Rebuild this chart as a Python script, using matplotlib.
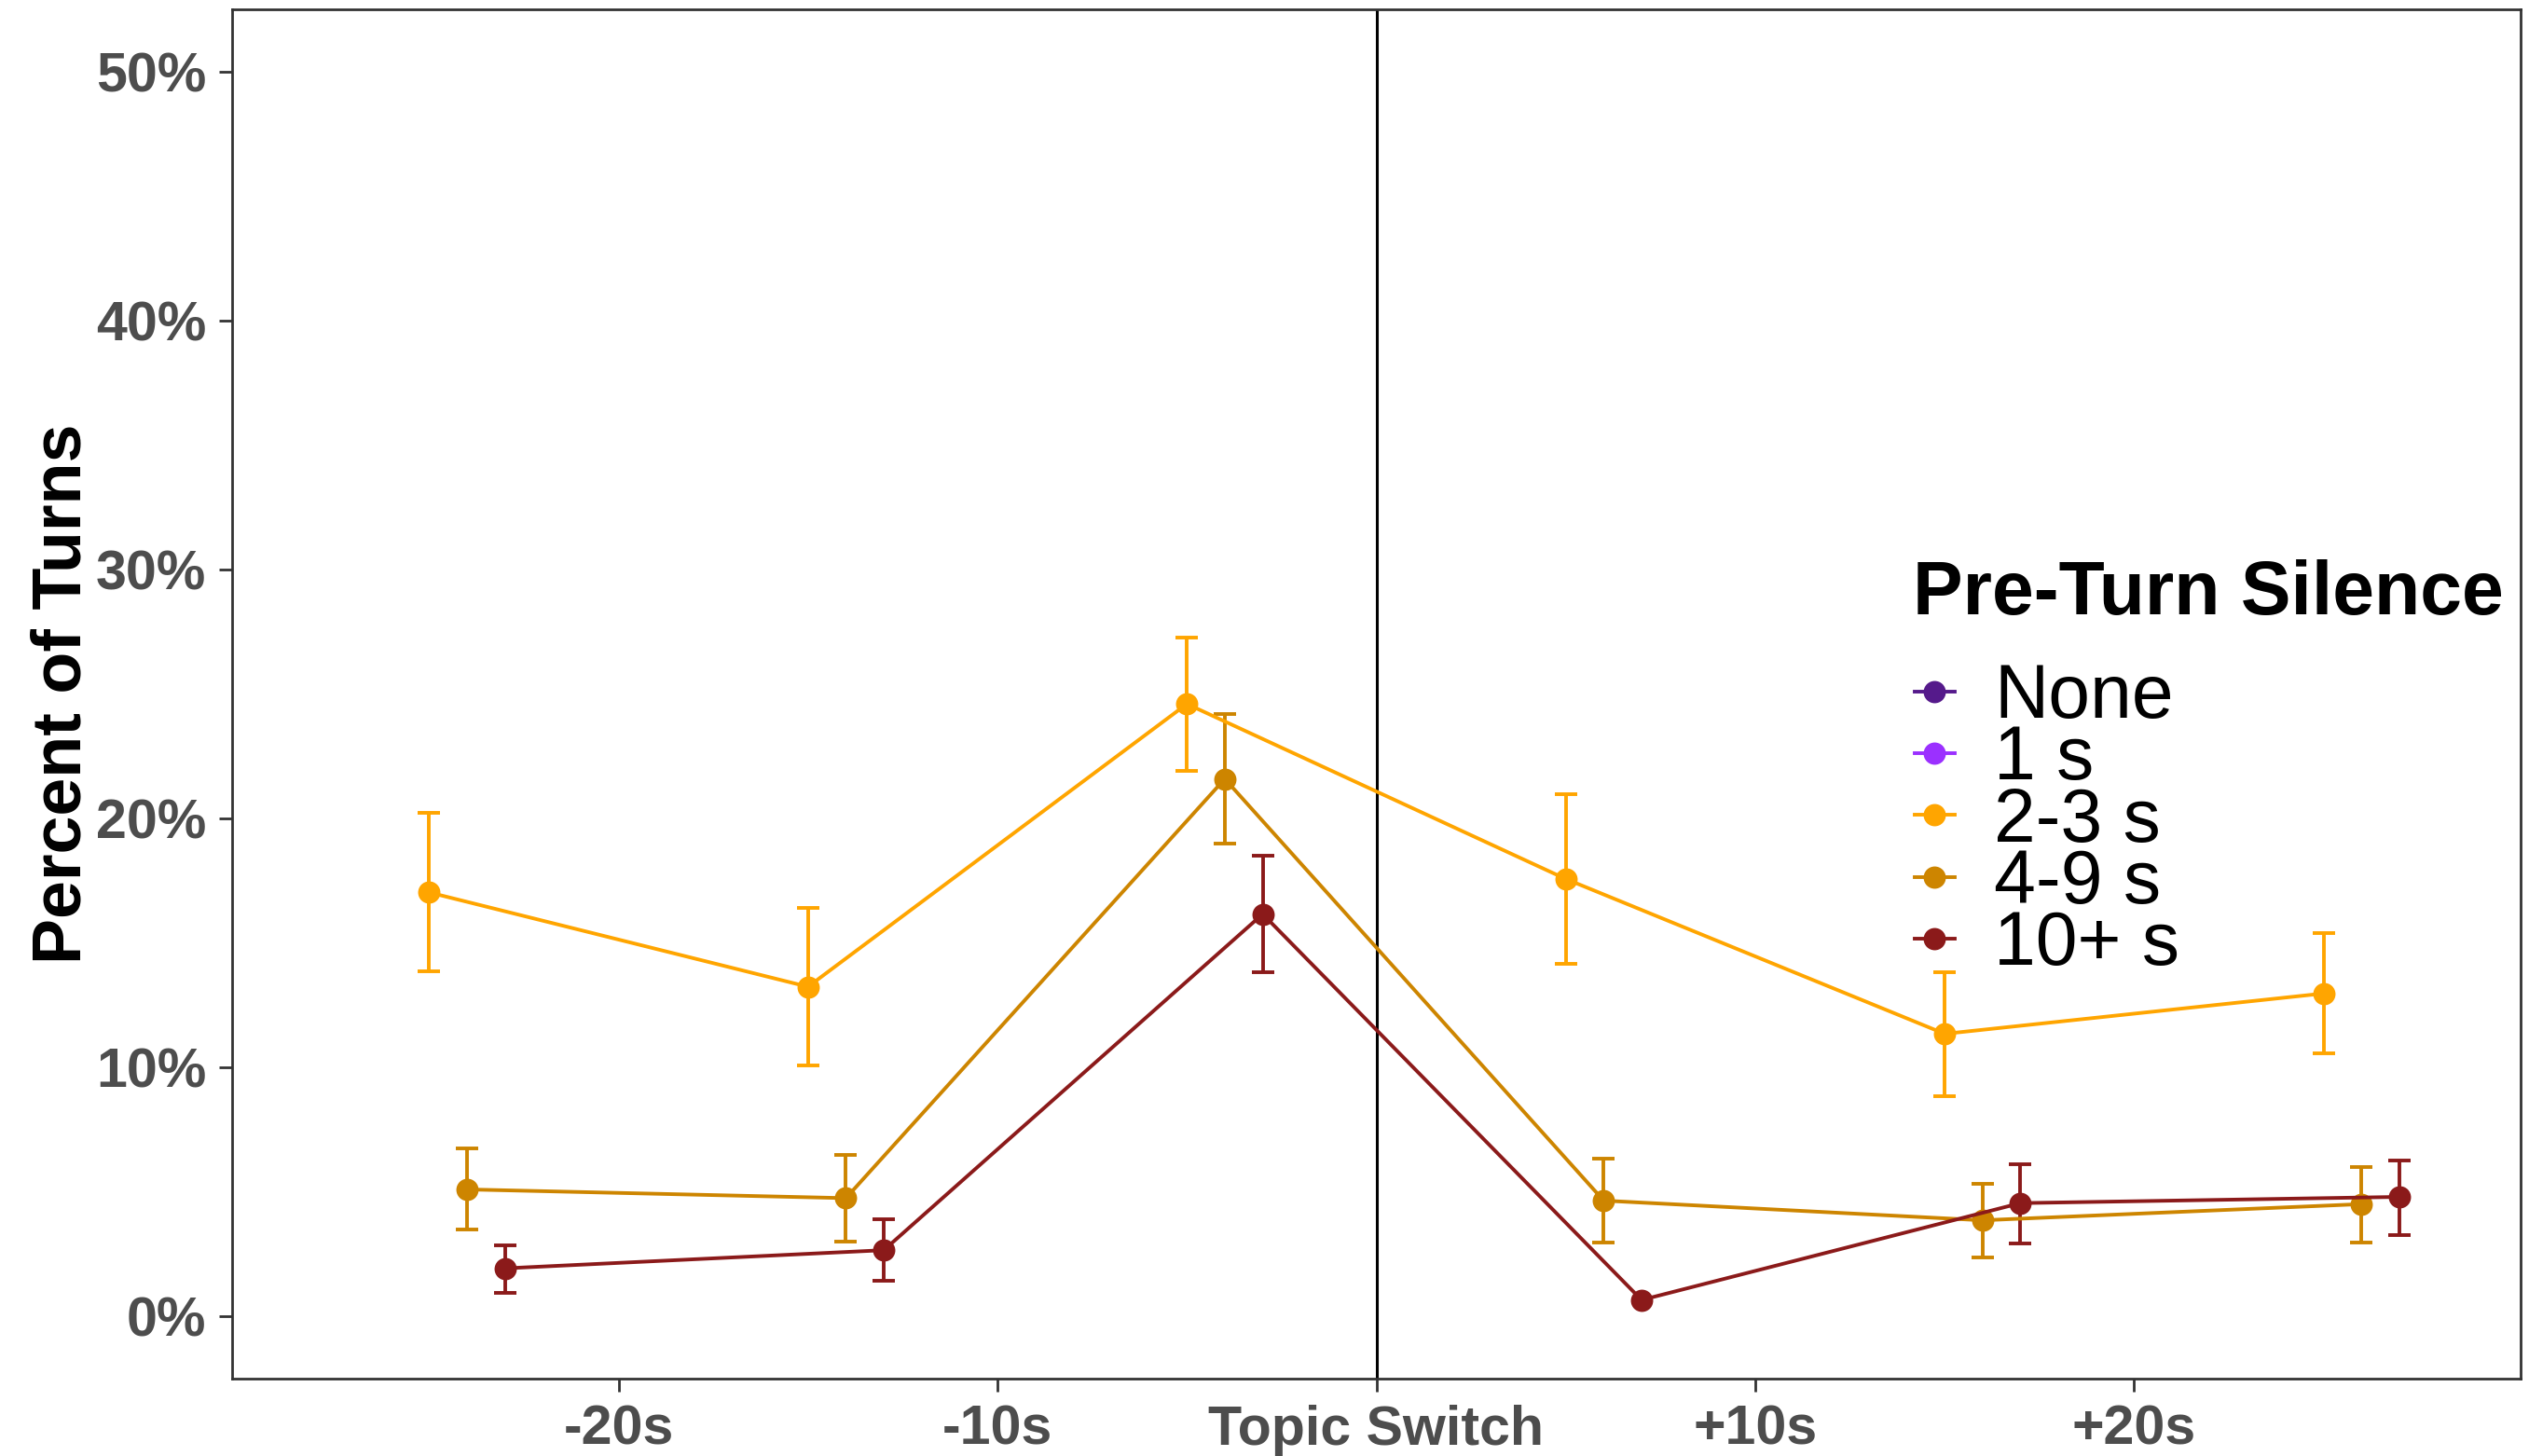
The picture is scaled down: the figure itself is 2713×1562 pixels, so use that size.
import numpy as np
import matplotlib
matplotlib.use('Agg')
import matplotlib.pyplot as plt
from matplotlib.lines import Line2D

plt.rcParams['font.family'] = ['Liberation Sans', 'DejaVu Sans']

# time bins around the topic switch (seconds)
time_bins = [-25, -15, -5, 5, 15, 25]
tick_pos = [-20, -10, 0, 10, 20]
tick_labels = ['-20s', '-10s', 'Topic Switch', '+10s', '+20s']
y_ticks = [0, 10, 20, 30, 40, 50]

levels = ['None', '1 s', '2-3 s', '4-9 s', '10+ s']
colors = ['#551A8B', '#9B30FF', '#FFA500', '#CD8500', '#8B1A1A']

# percent of turns, with lower / upper error limits
pct_none = []
lo_none = []
hi_none = []
pct_1s = []
lo_1s = []
hi_1s = []
pct_23 = [17.03, 13.24, 24.60, 17.57, 11.35, 12.97]
lo_23 = [13.86, 10.07, 21.90, 14.17, 8.86, 10.55]
hi_23 = [20.21, 16.41, 27.28, 20.97, 13.83, 15.40]
pct_49 = [5.10, 4.75, 21.59, 4.65, 3.86, 4.51]
lo_49 = [3.49, 3.02, 19.00, 2.95, 2.38, 2.96]
hi_49 = [6.75, 6.49, 24.18, 6.32, 5.31, 6.01]
pct_10 = [1.93, 2.66, 16.16, 0.66, 4.55, 4.80]
lo_10 = [0.96, 1.42, 13.84, np.nan, 2.94, 3.27]
hi_10 = [2.86, 3.92, 18.49, np.nan, 6.11, 6.26]

series = [(pct_none, lo_none, hi_none), (pct_1s, lo_1s, hi_1s),
          (pct_23, lo_23, hi_23), (pct_49, lo_49, hi_49), (pct_10, lo_10, hi_10)]

fig = plt.figure(figsize=(2713 / 200, 1562 / 200), dpi=200)
ax = fig.add_axes([249 / 2713, 1 - 1479 / 1562, (2704 - 249) / 2713, (1479 - 10) / 1562])

ax.axvline(0, color='black', lw=1.1, zorder=1)

handles = []
for i, (lab, col, (p, lo, hi)) in enumerate(zip(levels, colors, series)):
    dodge = i - 2  # position dodge, 1s per group
    if len(p) > 0:
        x = np.array(time_bins, dtype=float) + dodge
        p = np.array(p)
        yerr = np.vstack([p - np.array(lo), np.array(hi) - p])
        ax.errorbar(x, p, yerr=yerr, fmt='none', ecolor=col, elinewidth=1.4,
                    capsize=4.3, capthick=1.4, zorder=2)
        ax.plot(x, p, color=col, lw=1.4, marker='o', ms=7.6, zorder=3)
    handles.append(Line2D([], [], color=col, lw=1.4, marker='o', ms=7.6, label=lab))

ax.set_xlim(-30.2, 30.2)
ax.set_ylim(-2.5, 52.5)
ax.set_xticks(tick_pos)
ax.set_xticklabels(tick_labels)
ax.set_yticks(y_ticks)
ax.set_yticklabels(['%d%%' % v for v in y_ticks])

for lbl in ax.get_xticklabels() + ax.get_yticklabels():
    lbl.set_fontweight('bold')
ax.tick_params(labelsize=21.3, labelcolor='#4D4D4D', length=5, width=1, color='#333333')
ax.tick_params(axis='x', pad=5)
ax.tick_params(axis='y', pad=5)

for s in ax.spines.values():
    s.set_color('#333333')
    s.set_linewidth(1)

ax.set_ylabel('Percent of Turns', fontsize=26.5, fontweight='bold', color='black')
ax.yaxis.set_label_coords((101 - 249) / 2455, 0.5)

leg = ax.legend(handles=handles, loc='upper left',
                bbox_to_anchor=(2054 / 2713, 1 - 711 / 1562), bbox_transform=fig.transFigure,
                frameon=False, fontsize=29, handlelength=0.53, handletextpad=0.53,
                labelspacing=-0.12, borderpad=0, borderaxespad=0)
fig.text(2052 / 2713, 1 - 659 / 1562, 'Pre-Turn Silence', fontsize=29, fontweight='bold',
         va='baseline', ha='left')

fig.savefig('out.png', dpi=200, facecolor='white')
